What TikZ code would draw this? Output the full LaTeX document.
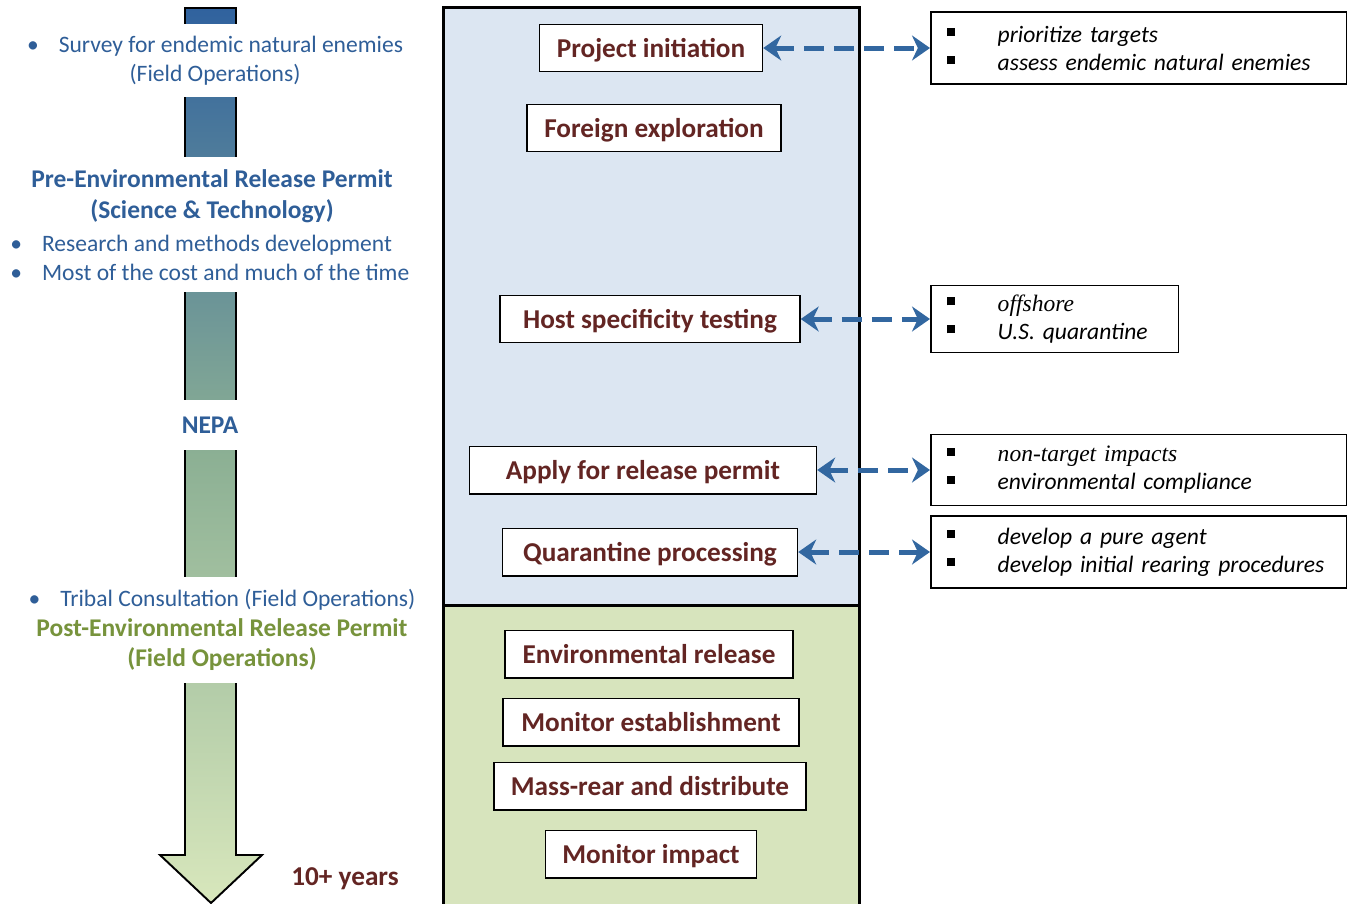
\documentclass[tikz,border=0pt]{standalone}
\usepackage{fontspec}
\setmainfont{Carlito}
\newfontfamily\timesit{Liberation Serif}
\usetikzlibrary{arrows.meta,positioning}

\definecolor{procred}{RGB}{99,37,35}
\definecolor{phaseblue}{RGB}{47,94,152}
\definecolor{phasegreen}{RGB}{119,147,60}
\definecolor{linkblue}{RGB}{50,103,160}
\definecolor{prefill}{RGB}{220,230,242}
\definecolor{postfill}{RGB}{215,228,189}
\definecolor{shafttop}{RGB}{48,98,158}
\definecolor{shaftmid}{RGB}{140,176,148}
\definecolor{shaftbot}{RGB}{216,231,188}

\newcommand{\sqbullet}{\rule[0.12cm]{0.16cm}{0.16cm}\hspace{0.86cm}}

\tikzset{
  proc/.style={draw, line width=0.85pt, fill=white, inner xsep=0.34cm, minimum height=0.95cm,
    text height=0.46cm, text depth=0.08cm, font=\fontsize{15.5}{18}\selectfont\bfseries, text=procred},
  note/.style={draw, line width=0.85pt, fill=white, anchor=west, inner xsep=0.32cm, align=left,
    font=\fontsize{13.4}{15.9}\selectfont\itshape},
  link/.style={linkblue, line width=0.1cm, dash pattern=on 0.4cm off 0.2cm,
    {Stealth[length=0.36cm,width=0.5cm]}-{Stealth[length=0.36cm,width=0.5cm]}},
  band/.style={fill=white, inner sep=0pt, align=center, text=phaseblue},
}

\begin{document}
\begin{tikzpicture}[x=0.02cm, y=-0.02cm]
\useasboundingbox (0,0) rectangle (1352,903);

% time arrow on the left
\draw[line width=1.1pt, top color=shafttop, bottom color=shaftbot, middle color=shaftmid]
  (185,8) -- (236,8) -- (236,855) -- (262,855) -- (211,903) -- (160,855) -- (185,855) -- cycle;

\node[band, font=\fontsize{13.4}{16.5}\selectfont, minimum height=1.46cm] (survey) at (215,60.5)
  {•\hspace{0.4cm}Survey for endemic natural enemies\\(Field Operations)};
\node[band, font=\fontsize{14.5}{17.6}\selectfont\bfseries, minimum height=1.58cm] (pre) at (212,196.5)
  {Pre-Environmental Release Permit\\(Science \& Technology)};
\node[band, anchor=west, align=left, font=\fontsize{13.4}{16.5}\selectfont, minimum height=1.36cm] (research) at (10,258)
  {•\hspace{0.4cm}Research and methods development\\•\hspace{0.4cm}Most of the cost and much of the time};
\node[band, font=\fontsize{14.5}{17.6}\selectfont\bfseries, minimum height=1.0cm, minimum width=1.4cm] (nepa) at (210,425) {NEPA};
\node[band, font=\fontsize{13.4}{17.2}\selectfont, minimum height=2.12cm] (post) at (222,630)
  {•\hspace{0.4cm}Tribal Consultation (Field Operations)\\
   \color{phasegreen}\fontsize{14.5}{17.6}\selectfont\bfseries Post-Environmental Release Permit\\
   \color{phasegreen}\fontsize{14.5}{17.6}\selectfont\bfseries (Field Operations)};
\node[text=procred, font=\fontsize{15.5}{18}\selectfont\bfseries] (years) at (345,879) {10+ years};

% process column
\fill[prefill] (443,7) rectangle (859,605);
\fill[postfill] (443,605) rectangle (859,910);
\draw[line width=0.06cm] (443,910) -- (443,7) -- (859,7) -- (859,910);
\draw[line width=0.06cm] (443,605) -- (859,605);

\node[proc, minimum width=4.46cm] (init) at (651,48) {Project initiation};
\node[proc, minimum width=5.08cm] (explore) at (654,128) {Foreign exploration};
\node[proc, minimum width=6.0cm] (host) at (650,319) {Host specificity testing};
\node[proc, minimum width=6.94cm] (permit) at (643,470) {Apply for release permit};
\node[proc, minimum width=5.9cm] (quar) at (650,552) {Quarantine processing};
\node[proc, minimum width=5.76cm] (release) at (649,654) {Environmental release};
\node[proc, minimum width=5.92cm] (establish) at (651,722) {Monitor establishment};
\node[proc, minimum width=6.24cm] (massrear) at (650,786) {Mass-rear and distribute};
\node[proc, minimum width=4.22cm] (impact) at (651,854) {Monitor impact};

% notes
\node[note, text width=7.68cm, minimum height=1.44cm] (prior) at (930,48)
  {\sqbullet prioritize targets\\\sqbullet assess endemic natural enemies};
\node[note, text width=4.32cm, minimum height=1.34cm] (offshore) at (930,319)
  {\sqbullet{\timesit offshore}\\\sqbullet U.S. quarantine};
\node[note, text width=7.68cm, minimum height=1.42cm] (nontarget) at (930,470)
  {\sqbullet{\timesit non-target impacts}\\\sqbullet environmental compliance};
\node[note, text width=7.68cm, minimum height=1.44cm] (pure) at (930,552)
  {\sqbullet develop a pure agent\\\sqbullet develop initial rearing procedures};

\draw[link] (init.east) -- (prior.west);
\draw[link] (host.east) -- (offshore.west);
\draw[link] (permit.east) -- (nontarget.west);
\draw[link] (quar.east) -- (pure.west);
\end{tikzpicture}
\end{document}
